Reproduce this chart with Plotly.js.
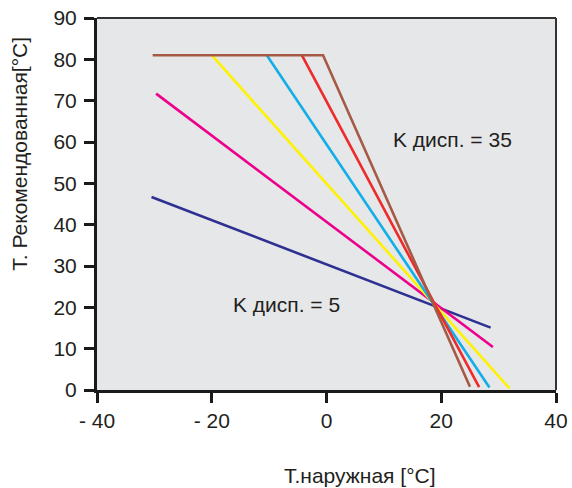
<!DOCTYPE html>
<html>
<head>
<meta charset="utf-8">
<script src="https://cdn.plot.ly/plotly-3.0.1.min.js"></script>
<style>html,body{margin:0;padding:0;background:#fff;}#chart{width:572px;height:488px;}</style>
</head>
<body>
<div id="chart"></div>
<script>
// Data
const navyX = [-30.5, 28.6];
const navyY = [46.7, 15.1];
const magentaX = [-29.7, 29.0];
const magentaY = [71.7, 10.4];
const yellowX = [-20.0, 31.9];
const yellowY = [81, 0.4];
const cyanX = [-10.4, 28.4];
const cyanY = [81, 0.6];
const redX = [-4.3, 26.6];
const redY = [81, 0.7];
const brownX = [-30.3, -0.6, 25.0];
const brownY = [81, 81, 0.8];

const xTickVals = [-40, -20, 0, 20, 40];
const xTickText = ['- 40', '- 20', '0', '20', '40'];
const yTickVals = [0, 10, 20, 30, 40, 50, 60, 70, 80, 90];

const labelLow = 'K дисп. = 5';
const labelHigh = 'K дисп. = 35';
const xTitle = 'T.наружная [°C]';
const yTitle = 'T. Рекомендованная[°C]';

const FONT = 'Liberation Sans, Arial, sans-serif';
const TXT = '#231f20';

function line(x, y, color) {
  return {x: x, y: y, type: 'scatter', mode: 'lines',
          line: {color: color, width: 2.6}, hoverinfo: 'skip', showlegend: false};
}

const traces = [
  line(navyX, navyY, '#2e3192'),
  line(magentaX, magentaY, '#ec008c'),
  line(yellowX, yellowY, '#fff200'),
  line(cyanX, cyanY, '#12aee8'),
  line(redX, redY, '#ee2a2a'),
  line(brownX, brownY, '#a65a44')
];

const layout = {
  width: 572, height: 488,
  margin: {l: 97, r: 16, t: 18, b: 98},
  paper_bgcolor: '#ffffff',
  plot_bgcolor: '#e6e7e9',
  font: {family: FONT, color: TXT, size: 21},
  showlegend: false,
  xaxis: {
    range: [-40, 40], tickvals: xTickVals, ticktext: xTickText,
    showgrid: false, zeroline: false,
    showline: true, linecolor: '#1a1a1a', linewidth: 3,
    ticks: 'outside', ticklen: 10, tickwidth: 3, tickcolor: '#1a1a1a',
    tickfont: {family: FONT, size: 21, color: TXT}
  },
  yaxis: {
    range: [0, 90], tickvals: yTickVals,
    showgrid: false, zeroline: false,
    showline: true, linecolor: '#1a1a1a', linewidth: 3,
    ticks: 'outside', ticklen: 10, tickwidth: 3, tickcolor: '#1a1a1a',
    ticklabelstandoff: 3,
    tickfont: {family: FONT, size: 21, color: TXT}
  },
  shapes: [
    {type: 'line', xref: 'paper', yref: 'paper', x0: 0, x1: 1, y0: 1, y1: 1, line: {color: '#333333', width: 2}},
    {type: 'line', xref: 'paper', yref: 'paper', x0: 1, x1: 1, y0: 0, y1: 1, line: {color: '#333333', width: 2}}
  ],
  annotations: [
    {x: 21.96, y: 60.5, xref: 'x', yref: 'y', text: labelHigh, showarrow: false,
     font: {family: FONT, size: 21, color: TXT}},
    {x: -6.9, y: 20.6, xref: 'x', yref: 'y', text: labelLow, showarrow: false,
     font: {family: FONT, size: 21, color: TXT}},
    {x: 0.573, y: -0.231, xref: 'paper', yref: 'paper', text: xTitle, showarrow: false,
     xanchor: 'center', yanchor: 'middle', font: {family: FONT, size: 21, color: TXT}},
    {x: -0.1688, y: 0.634, xref: 'paper', yref: 'paper', text: yTitle, showarrow: false,
     textangle: -90, xanchor: 'center', yanchor: 'middle', font: {family: FONT, size: 21, color: TXT}}
  ]
};

Plotly.newPlot('chart', traces, layout, {displayModeBar: false, staticPlot: true});
</script>
</body>
</html>
